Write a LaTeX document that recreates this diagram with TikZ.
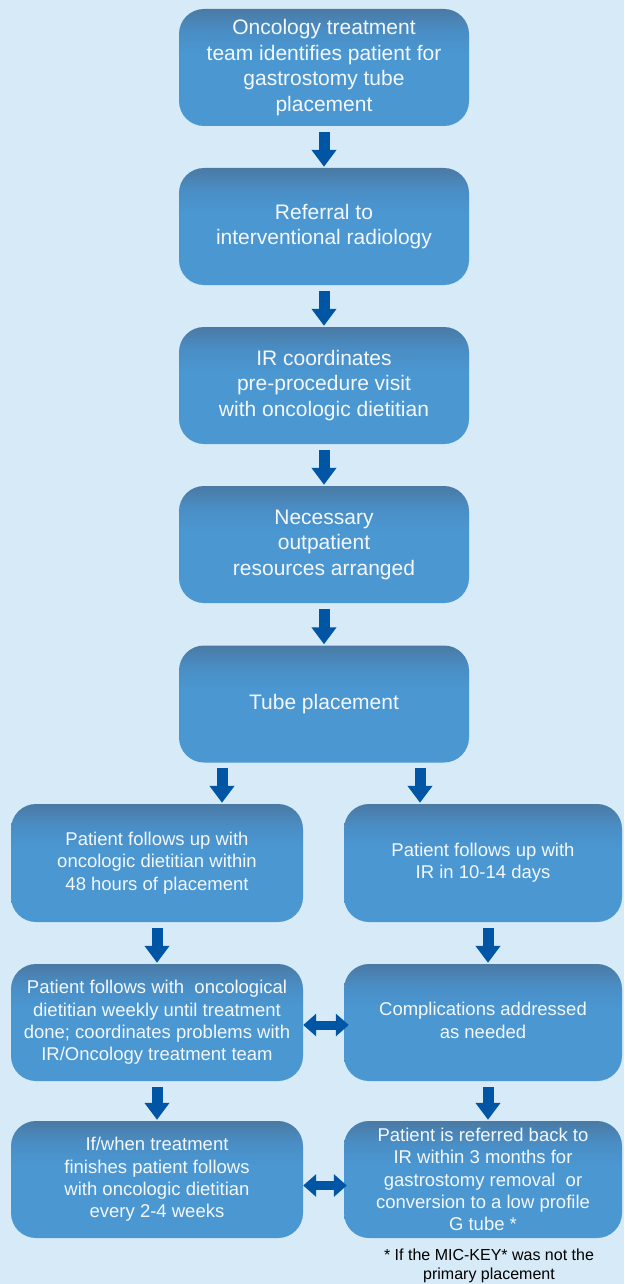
\documentclass[tikz,border=0pt]{standalone}
\usepackage{fontspec}
\setmainfont{Liberation Sans}
\usetikzlibrary{arrows.meta}
\definecolor{bgcol}{HTML}{D6EBF7}
\definecolor{boxtop}{HTML}{4A7AA4}
\definecolor{boxmid}{HTML}{4A8DC4}
\definecolor{boxbody}{HTML}{4A97D2}
\definecolor{arrcol}{HTML}{0055A5}
\definecolor{txtcol}{HTML}{F4F8FC}
\pgfdeclareverticalshading{boxshade}{100bp}{color(0bp)=(boxbody); color(25bp)=(boxbody); color(56bp)=(boxbody); color(66bp)=(boxmid); color(75bp)=(boxtop); color(100bp)=(boxtop)}
\tikzset{
  box/.style={shading=boxshade, rounded corners=25pt, inner sep=0pt,
    minimum width=290pt, minimum height=117pt, align=center, text=txtcol},
  bigtxt/.style={font=\fontsize{21}{25.5}\selectfont},
  smalltxt/.style={font=\fontsize{18.5}{22.3}\selectfont},
  arr/.style={draw=arrcol, line width=11pt, -{Triangle[width=24pt,length=17pt]}},
  darr/.style={draw=arrcol, line width=9pt, {Triangle[width=22pt,length=13pt]}-{Triangle[width=22pt,length=13pt]}},
  note/.style={font=\fontsize{16}{18.5}\selectfont, align=center, text=black}
}
\begin{document}
\begin{tikzpicture}[x=1pt,y=-1pt]
\fill[bgcol] (0,0) rectangle (624,1284);
\useasboundingbox (0,0) rectangle (624,1284);
% top column
\node[box,bigtxt] (b1) at (324,67.5) {Oncology treatment\\team identifies patient for\\gastrostomy tube\\placement};
\node[box,bigtxt] (b2) at (324,226.5) {Referral to\\interventional radiology};
\node[box,bigtxt] (b3) at (324,385.5) {IR coordinates\\pre-procedure visit\\with oncologic dietitian};
\node[box,bigtxt] (b4) at (324,544.5) {Necessary\\outpatient\\resources arranged};
\node[box,bigtxt] (b5) at (324,704) {\raisebox{5pt}{Tube placement}};
% lower left column
\node[box,smalltxt,minimum width=292pt,minimum height=118pt] (L1) at (157,863) {Patient follows up with\\oncologic dietitian within\\48 hours of placement};
\node[box,smalltxt,minimum width=292pt] (L2) at (157,1022.5) {Patient follows with~ oncological\\dietitian weekly until treatment\\done; coordinates problems with\\IR/Oncology treatment team};
\node[box,smalltxt,minimum width=292pt] (L3) at (157,1179.5) {If/when treatment\\finishes patient follows\\with oncologic dietitian\\every 2-4 weeks};
% lower right column
\node[box,smalltxt,minimum width=278pt,minimum height=118pt] (R1) at (483,863) {\raisebox{3pt}{\begin{tabular}{@{}c@{}}Patient follows up with\\IR in 10-14 days\end{tabular}}};
\node[box,smalltxt,minimum width=278pt] (R2) at (483,1022.5) {\raisebox{3pt}{\begin{tabular}{@{}c@{}}Complications addressed\\as needed\end{tabular}}};
\node[box,smalltxt,minimum width=278pt] (R3) at (483,1179.5) {Patient is referred back to\\IR within 3 months for\\gastrostomy removal~ or\\conversion to a low profile\\G tube *};
\node[note] (fn) at (489,1266) {* If the MIC-KEY* was not the\\primary placement};
% arrows
\draw[arr] ([yshift=-6pt]b1.south) -- ([yshift=1pt]b2.north);
\draw[arr] ([yshift=-6pt]b2.south) -- ([yshift=1pt]b3.north);
\draw[arr] ([yshift=-6pt]b3.south) -- ([yshift=1pt]b4.north);
\draw[arr] ([yshift=-6pt]b4.south) -- ([yshift=1pt]b5.north);
\draw[arr] ([xshift=-102pt,yshift=-5pt]b5.south) -- ([xshift=65pt,yshift=1pt]L1.north);
\draw[arr] ([xshift=96pt,yshift=-5pt]b5.south) -- ([xshift=-63pt,yshift=1pt]R1.north);
\draw[arr] ([yshift=-6pt]L1.south) -- ([yshift=1pt]L2.north);
\draw[arr] ([yshift=-6pt]L2.south) -- ([yshift=1pt]L3.north);
\draw[arr] ([xshift=5pt,yshift=-6pt]R1.south) -- ([xshift=5pt,yshift=1pt]R2.north);
\draw[arr] ([xshift=5pt,yshift=-6pt]R2.south) -- ([xshift=5pt,yshift=1pt]R3.north);
\draw[darr] ([yshift=-2.5pt]L2.east) -- ([xshift=5pt,yshift=-2.5pt]R2.west);
\draw[darr] ([yshift=-6pt]L3.east) -- ([xshift=3pt,yshift=-6pt]R3.west);
\end{tikzpicture}
\end{document}
